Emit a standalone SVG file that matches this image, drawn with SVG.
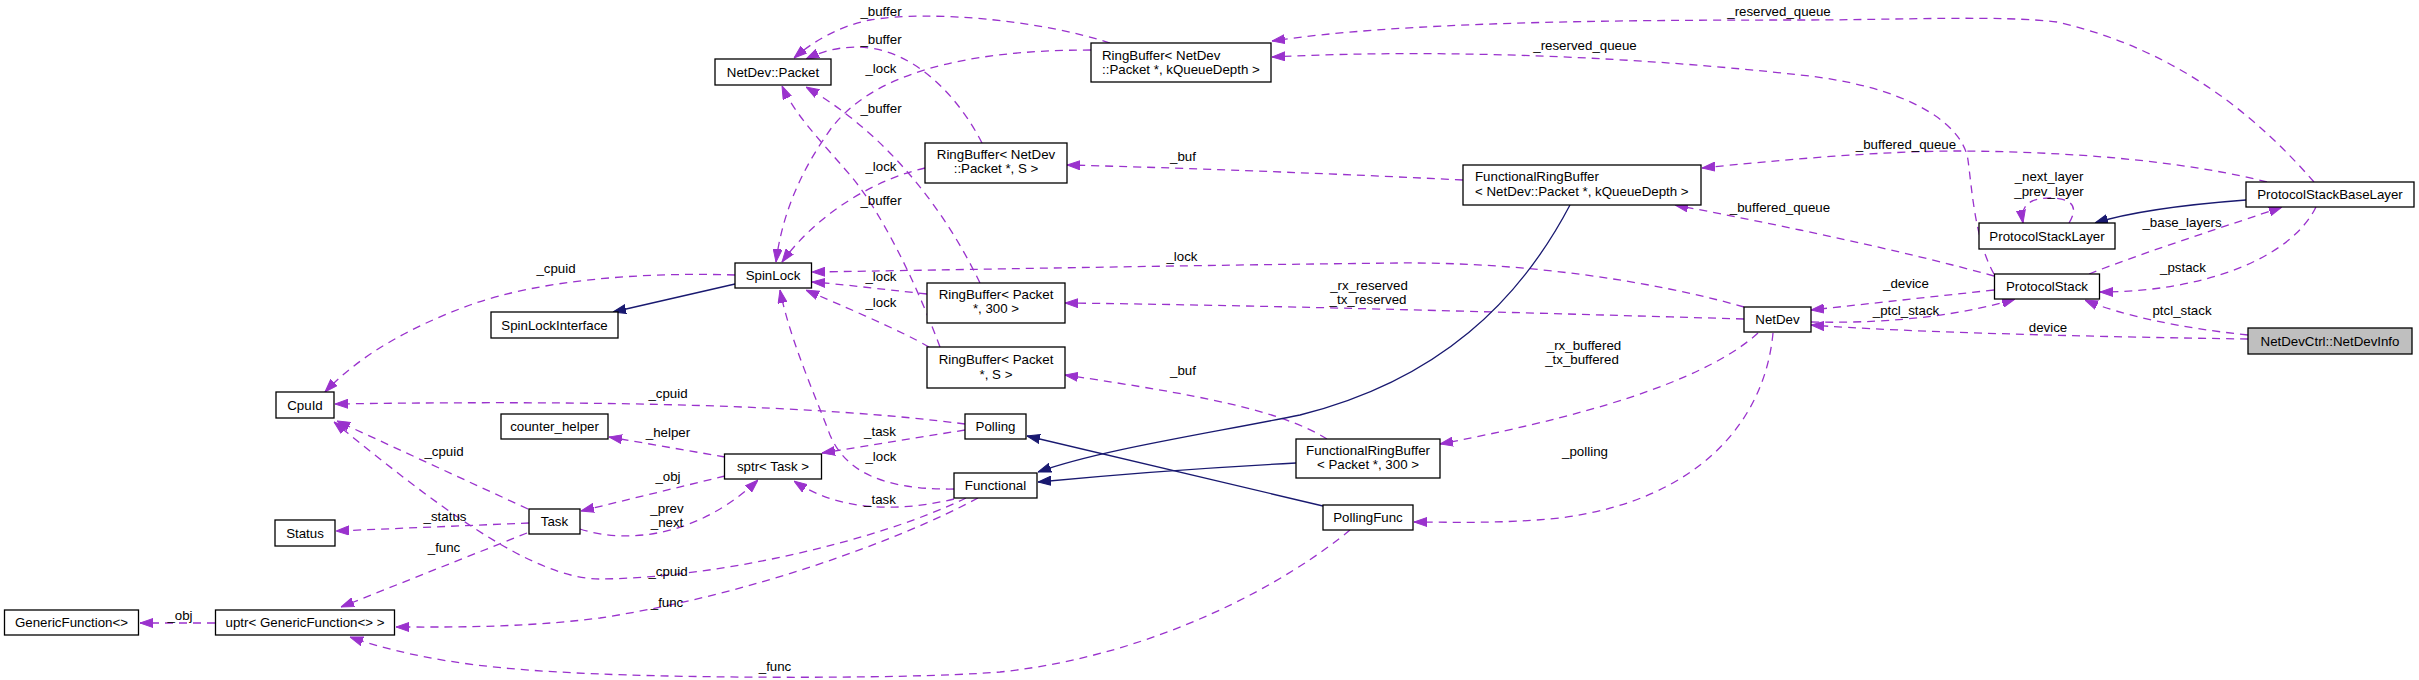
<svg xmlns="http://www.w3.org/2000/svg" width="2419" height="680" viewBox="0 0 2419 680">
<style>
text{font-family:"Liberation Sans",Arial,sans-serif;font-size:13.3px;fill:#000}
.n rect{fill:#fff;stroke:#000;stroke-width:1.3}
.n text{text-anchor:middle}
.n text.l{text-anchor:start}
.cur{fill:#bfbfbf!important}
.d{fill:none;stroke:#9a32cd;stroke-width:1.3;stroke-dasharray:8,6;marker-end:url(#ap)}
.s{fill:none;stroke:#191970;stroke-width:1.3;marker-end:url(#an)}
.lb{text-anchor:middle}
</style>
<defs>
<marker id="ap" viewBox="0 0 13 10" refX="13" refY="5" markerWidth="13" markerHeight="10" markerUnits="userSpaceOnUse" orient="auto"><path d="M0,0.5 L13,5 L0,9.5 z" fill="#9a32cd" stroke="#9a32cd" stroke-width="1"/></marker>
<marker id="an" viewBox="0 0 13 10" refX="13" refY="5" markerWidth="13" markerHeight="10" markerUnits="userSpaceOnUse" orient="auto"><path d="M0,0.5 L13,5 L0,9.5 z" fill="#191970" stroke="#191970" stroke-width="1"/></marker>
</defs>
<rect width="2419" height="680" fill="#fff"/>
<g id="edges">
<g><path class="s" d="M735,284 L613,312"/></g>
<g><path class="d" d="M735,275 C640,272 540,280 470,305 C410,327 360,355 325,392"/><text class="lb" x="556" y="273">_cpuid</text></g>
<g><path class="d" d="M965,424 C820,405 600,400 335,404"/><text class="lb" x="668" y="398">_cpuid</text></g>
<g><path class="d" d="M528,509 L337,421"/><text class="lb" x="444" y="456">_cpuid</text></g>
<g><path class="d" d="M966,498 C880,540 720,578 600,579 C530,579 430,500 334,422"/><text class="lb" x="668" y="576">_cpuid</text></g>
<g><path class="d" d="M529,523 L336,531"/><text class="lb" x="445" y="521">_status</text></g>
<g><path class="d" d="M527,533 L341,607"/><text class="lb" x="444" y="552">_func</text></g>
<g><path class="d" d="M215,623 L140,623"/><text class="lb" x="180" y="620">_obj</text></g>
<g><path class="d" d="M725,457 L609,437"/><text class="lb" x="668" y="437">_helper</text></g>
<g><path class="d" d="M725,476 L581,511"/><text class="lb" x="668" y="481">_obj</text></g>
<g><path class="d" d="M580,529 C630,545 700,535 758,480"/><text class="lb" x="667" y="513">_prev</text><text class="lb" x="667" y="527">_next</text></g>
<g><path class="d" d="M965,430 L822,453"/><text class="lb" x="880" y="436">_task</text></g>
<g><path class="d" d="M954,499 C900,512 840,512 794,481"/><text class="lb" x="880" y="504">_task</text></g>
<g><path class="d" d="M954,489 C880,490 845,470 830,435 C815,395 790,340 780,290"/><text class="lb" x="881" y="461">_lock</text></g>
<g><path class="d" d="M929,347 C900,330 840,305 806,290"/><text class="lb" x="881" y="307">_lock</text></g>
<g><path class="d" d="M927,294 C880,289 840,284 812,282"/><text class="lb" x="881" y="281">_lock</text></g>
<g><path class="d" d="M1744,307 C1650,280 1520,262 1400,263 C1200,265 950,270 812,272"/><text class="lb" x="1182" y="261">_lock</text></g>
<g><path class="d" d="M925,168 C880,178 820,210 782,262"/><text class="lb" x="881" y="171">_lock</text></g>
<g><path class="d" d="M1091,50 C960,50 870,75 830,130 C800,172 782,215 776,262"/><text class="lb" x="881" y="73">_lock</text></g>
<g><path class="d" d="M1110,43 C1040,20 930,10 870,20 C840,26 815,40 794,58"/><text class="lb" x="881" y="16">_buffer</text></g>
<g><path class="d" d="M982,143 C960,100 920,55 870,48 C845,45 825,50 806,59"/><text class="lb" x="881" y="44">_buffer</text></g>
<g><path class="d" d="M980,283 C940,200 880,130 806,87"/><text class="lb" x="881" y="113">_buffer</text></g>
<g><path class="d" d="M940,347 C915,280 880,210 850,175 C820,140 795,115 782,86"/><text class="lb" x="881" y="205">_buffer</text></g>
<g><path class="d" d="M1463,180 C1300,172 1150,167 1067,165"/><text class="lb" x="1183" y="161">_buf</text></g>
<g><path class="d" d="M1744,319 C1500,312 1250,305 1065,303"/><text class="lb" x="1369" y="290">_rx_reserved</text><text class="lb" x="1368" y="304">_tx_reserved</text></g>
<g><path class="d" d="M1327,439 C1280,410 1200,395 1065,375"/><text class="lb" x="1183" y="375">_buf</text></g>
<g><path class="s" d="M1570,205 C1520,300 1440,380 1300,415 C1200,435 1100,450 1038,472"/></g>
<g><path class="s" d="M1296,463 C1200,468 1100,476 1038,482"/></g>
<g><path class="s" d="M1323,506 L1027,436"/></g>
<g><path class="d" d="M1758,333 C1715,372 1620,410 1440,444"/><text class="lb" x="1584" y="350">_rx_buffered</text><text class="lb" x="1582" y="364">_tx_buffered</text></g>
<g><path class="d" d="M1773,333 C1765,420 1700,500 1560,518 C1500,524 1450,522 1414,522"/><text class="lb" x="1585" y="456">_polling</text></g>
<g><path class="d" d="M1350,530 C1290,580 1160,655 1000,672 C900,680 650,678 560,672 C480,668 410,658 350,637"/><text class="lb" x="775" y="671">_func</text></g>
<g><path class="d" d="M978,498 C900,540 750,595 600,618 C520,628 450,627 396,627"/><text class="lb" x="667" y="607">_func</text></g>
<g><path class="d" d="M1994,274 C1975,240 1972,190 1968,160 C1962,120 1900,85 1800,75 C1650,58 1450,48 1272,57"/><text class="lb" x="1585" y="50">_reserved_queue</text></g>
<g><path class="d" d="M2314,182 C2260,120 2180,50 2057,22 C2000,15 1900,20 1800,20 C1600,20 1400,22 1272,41"/><text class="lb" x="1779" y="16">_reserved_queue</text></g>
<g><path class="d" d="M2267,182 C2200,165 2100,152 1960,151 C1880,151 1780,160 1702,168"/><text class="lb" x="1906" y="149">_buffered_queue</text></g>
<g><path class="d" d="M1994,276 C1900,250 1780,225 1675,205"/><text class="lb" x="1780" y="212">_buffered_queue</text></g>
<g><path class="d" d="M2069,223 C2080,205 2070,198 2050,198 C2030,198 2020,205 2023,223"/><text class="lb" x="2049" y="181">_next_layer</text><text class="lb" x="2049" y="196">_prev_layer</text></g>
<g><path class="s" d="M2246,200 C2180,205 2130,212 2095,223"/></g>
<g><path class="d" d="M2089,274 C2150,250 2230,225 2282,207"/><text class="lb" x="2182" y="227">_base_layers</text></g>
<g><path class="d" d="M2316,207 C2290,260 2200,292 2100,292"/><text class="lb" x="2183" y="272">_pstack</text></g>
<g><path class="d" d="M2248,335 C2180,328 2120,315 2085,300"/><text class="lb" x="2182" y="315">ptcl_stack</text></g>
<g><path class="d" d="M2248,339 C2100,337 1900,332 1811,325"/><text class="lb" x="2048" y="332">device</text></g>
<g><path class="d" d="M1994,290 L1811,310"/><text class="lb" x="1906" y="288">_device</text></g>
<g><path class="d" d="M1811,322 C1900,324 1970,313 2015,299"/><text class="lb" x="1906" y="315">_ptcl_stack</text></g>
</g>
<g id="node-NetDevInfo" class="n"><rect class="cur" x="2248" y="328" width="164" height="26"/><text x="2330" y="345.5">NetDevCtrl::NetDevInfo</text></g>
<g id="node-NetDev" class="n"><rect x="1744" y="307" width="67" height="25"/><text x="1777.5" y="324">NetDev</text></g>
<g id="node-ProtocolStack" class="n"><rect x="1994.5" y="274" width="105" height="25"/><text x="2047" y="291">ProtocolStack</text></g>
<g id="node-ProtocolStackLayer" class="n"><rect x="1979" y="223" width="136" height="26"/><text x="2047" y="240.5">ProtocolStackLayer</text></g>
<g id="node-ProtocolStackBaseLayer" class="n"><rect x="2246" y="182" width="168" height="25"/><text x="2330" y="199">ProtocolStackBaseLayer</text></g>
<g id="node-FRB-NK" class="n"><rect x="1463" y="165" width="238" height="40"/><text class="l" x="1475" y="181">FunctionalRingBuffer</text><text class="l" x="1475" y="196">&lt; NetDev::Packet *, kQueueDepth &gt;</text></g>
<g id="node-FRB-P300" class="n"><rect x="1296" y="439" width="144" height="39"/><text x="1368" y="455">FunctionalRingBuffer</text><text x="1368" y="469">&lt; Packet *, 300 &gt;</text></g>
<g id="node-PollingFunc" class="n"><rect x="1323" y="505" width="90" height="25"/><text x="1368" y="522">PollingFunc</text></g>
<g id="node-RB-NK" class="n"><rect x="1091" y="43" width="180" height="39"/><text class="l" x="1102" y="59.5">RingBuffer&lt; NetDev</text><text class="l" x="1102" y="73.5">::Packet *, kQueueDepth &gt;</text></g>
<g id="node-RB-NS" class="n"><rect x="925" y="143" width="142" height="40"/><text x="996" y="159">RingBuffer&lt; NetDev</text><text x="996" y="173">::Packet *, S &gt;</text></g>
<g id="node-RB-P300" class="n"><rect x="927" y="283" width="138" height="40"/><text x="996" y="299">RingBuffer&lt; Packet</text><text x="996" y="313">*, 300 &gt;</text></g>
<g id="node-RB-PS" class="n"><rect x="927" y="347" width="138" height="41"/><text x="996" y="364">RingBuffer&lt; Packet</text><text x="996" y="378.5">*, S &gt;</text></g>
<g id="node-Polling" class="n"><rect x="965" y="414" width="61" height="25"/><text x="995.5" y="431">Polling</text></g>
<g id="node-Functional" class="n"><rect x="954" y="473" width="83" height="25"/><text x="995.5" y="490">Functional</text></g>
<g id="node-NetDevPacket" class="n"><rect x="715" y="59" width="116" height="26"/><text x="773" y="76.5">NetDev::Packet</text></g>
<g id="node-SpinLock" class="n"><rect x="735" y="263" width="76.5" height="25"/><text x="773" y="280">SpinLock</text></g>
<g id="node-sptrTask" class="n"><rect x="724.5" y="454" width="97" height="25"/><text x="773" y="471">sptr&lt; Task &gt;</text></g>
<g id="node-SpinLockInterface" class="n"><rect x="491" y="312" width="127" height="26"/><text x="554.5" y="329.5">SpinLockInterface</text></g>
<g id="node-counter_helper" class="n"><rect x="501" y="414" width="107" height="25"/><text x="554.5" y="431">counter_helper</text></g>
<g id="node-Task" class="n"><rect x="529" y="509" width="51" height="25"/><text x="554.5" y="526">Task</text></g>
<g id="node-CpuId" class="n"><rect x="276" y="392" width="58" height="26"/><text x="305" y="409.5">CpuId</text></g>
<g id="node-Status" class="n"><rect x="275" y="520" width="60" height="26"/><text x="305" y="537.5">Status</text></g>
<g id="node-uptr" class="n"><rect x="215.5" y="610" width="179" height="25"/><text x="305" y="627">uptr&lt; GenericFunction&lt;&gt; &gt;</text></g>
<g id="node-GenericFunction" class="n"><rect x="4.5" y="610" width="134" height="25"/><text x="71.5" y="627">GenericFunction&lt;&gt;</text></g>
</svg>
